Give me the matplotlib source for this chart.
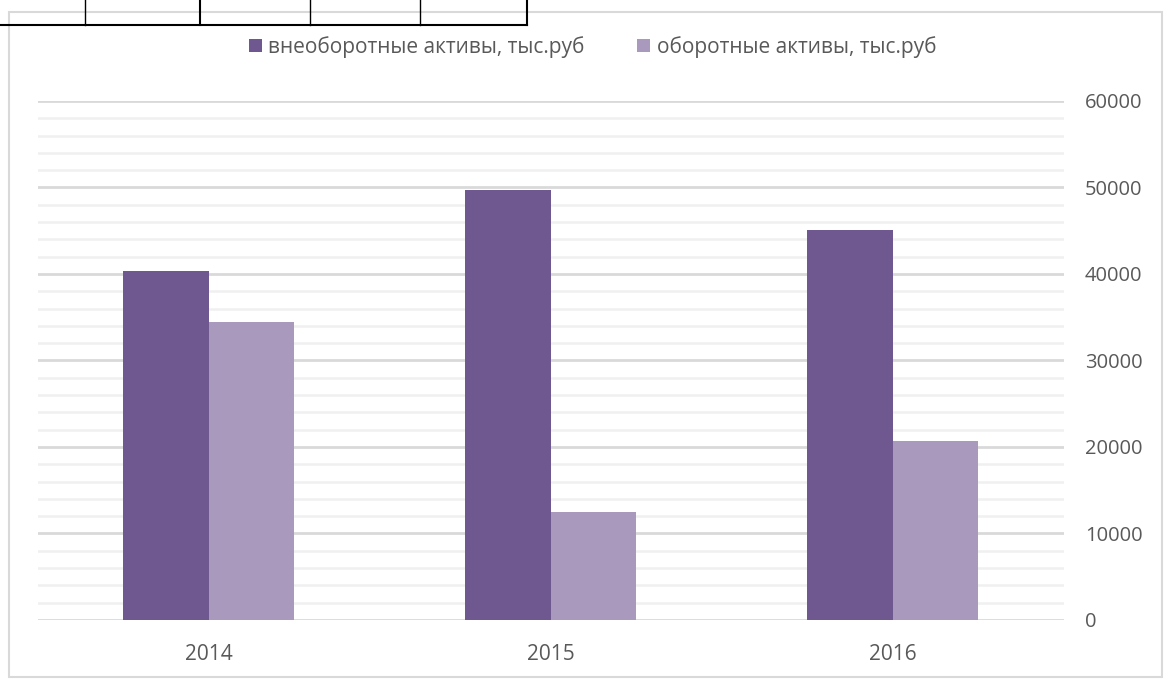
import numpy as np
import matplotlib.pyplot as plt
from matplotlib.lines import Line2D
from matplotlib.patches import Rectangle

plt.rcParams['font.family'] = ['Open Sans', 'DejaVu Sans']

# данные графика
years = ['2014', '2015', '2016']
vneobor = [40300, 49700, 45100]   # внеоборотные активы
obor = [34400, 12500, 20700]      # оборотные активы
series_names = ['внеоборотные активы, тыс.руб', 'оборотные активы, тыс.руб']
yticks = [0, 10000, 20000, 30000, 40000, 50000, 60000]

dark = '#6f5890'
light = '#a99abd'
txt = '#595959'

fig = plt.figure(figsize=(11.65, 6.79), dpi=100)
ax = fig.add_axes([0.0326, 0.0869, 0.8807, 0.7644])

x = np.arange(len(years))
w = 0.25
ax.bar(x - w / 2, vneobor, w, color=dark, label=series_names[0], zorder=3)
ax.bar(x + w / 2, obor, w, color=light, label=series_names[1], zorder=3)

ax.set_xlim(-0.5, 2.5)
ax.set_ylim(0, 60000)
ax.set_yticks(yticks)
ax.set_yticks(np.arange(0, 60001, 2000), minor=True)
ax.yaxis.tick_right()
ax.grid(axis='y', which='minor', color='#f0f0f0', lw=1.8, zorder=0)
ax.grid(axis='y', which='major', color='#d9d9d9', lw=2, zorder=1)
ax.tick_params(axis='y', which='both', length=0, pad=15, labelsize=14.5, labelcolor=txt)
ax.set_xticks(x)
ax.set_xticklabels(years)
ax.tick_params(axis='x', length=0, pad=17, labelsize=15, labelcolor=txt)
for s in ax.spines.values():
    s.set_visible(False)

leg = ax.legend(loc='center', bbox_to_anchor=(0.5085, 0.931), bbox_transform=fig.transFigure,
                ncol=2, frameon=False, fontsize=15, handlelength=0.65, handleheight=0.65,
                handletextpad=0.3, columnspacing=2.5)
for t in leg.get_texts():
    t.set_color(txt)

# рамка диаграммы
fig.add_artist(Rectangle((9 / 1165, 2 / 679), 1153 / 1165, 665 / 679, transform=fig.transFigure,
                         fill=False, ec='#d9d9d9', lw=1.5))

# кусок таблицы сверху
ty = 1 - 25 / 679
fig.add_artist(Line2D([0, 527 / 1165], [ty, ty], transform=fig.transFigure, color='black', lw=1.5))
for px in [85, 200, 310, 420, 527]:
    fig.add_artist(Line2D([px / 1165, px / 1165], [ty, 1], transform=fig.transFigure,
                          color='black', lw=1.5 if px in (200, 527) else 1))

fig.savefig('out.png', dpi=100)
